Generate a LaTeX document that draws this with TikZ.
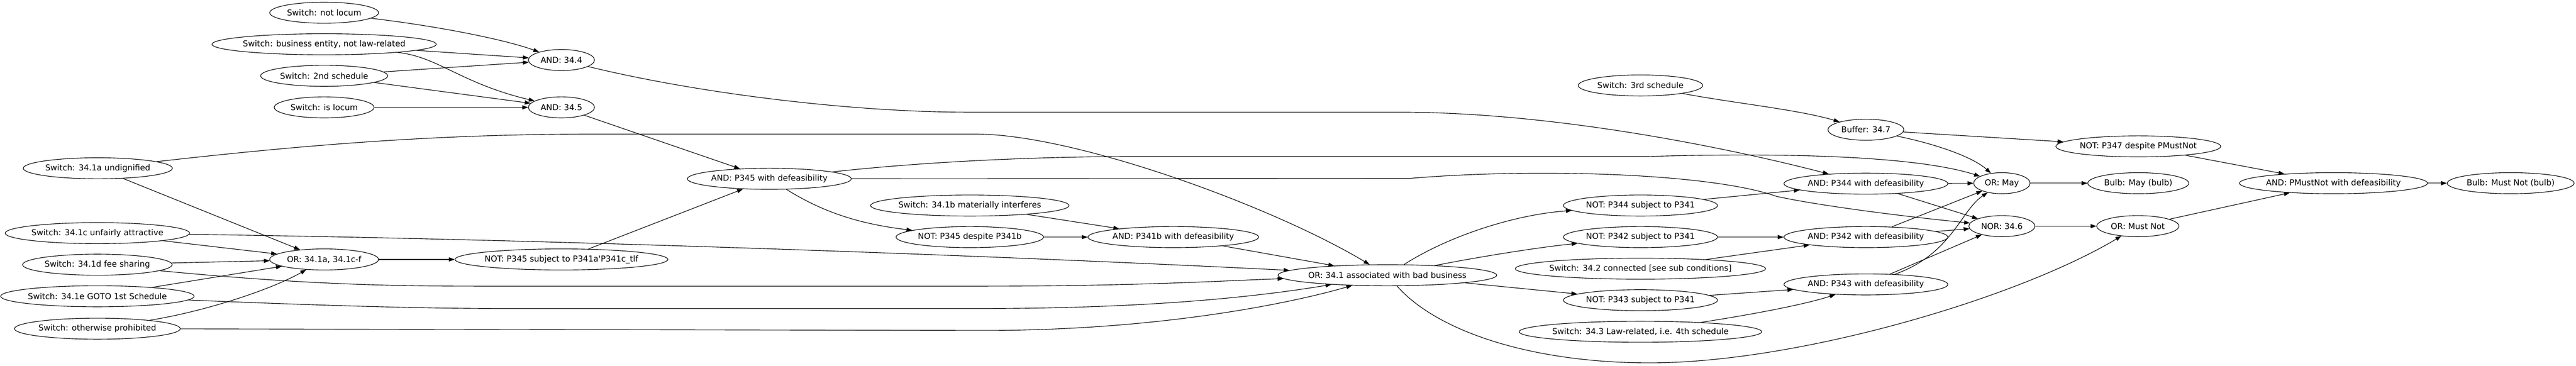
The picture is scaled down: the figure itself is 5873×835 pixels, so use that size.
\documentclass[tikz,border=0pt]{standalone}
\usepackage{fontspec}
\newfontfamily\gvfont{DejaVu Sans}
\usetikzlibrary{arrows.meta,shapes.geometric}
\newcommand{\gvlabel}[1]{\makebox[0.926\width]{#1}}
\tikzset{
	gate/.style={draw, ellipse, line width=1pt, inner xsep=7pt, inner ysep=1pt,
		minimum height=36pt, font=\gvfont\fontsize{14pt}{17pt}\selectfont},
	wire/.style={-{Triangle[length=10pt,width=7pt]}, line width=1pt},
}
\begin{document}
\begin{tikzpicture}[x=0.75pt,y=-0.75pt] % one unit = one pixel of the graph
		\useasboundingbox (0,0) rectangle (5873,835);
		
		% switches, left
		\node[gate] (swNotLocum) at (739,29) {\gvlabel{Switch: not locum}};
		\node[gate] (swBusiness) at (739,101) {\gvlabel{Switch: business entity, not law-related}};
		\node[gate] (swSecond) at (739,173) {\gvlabel{Switch: 2nd schedule}};
		\node[gate] (swIsLocum) at (739,245) {\gvlabel{Switch: is locum}};
		\node[gate] (swUndignified) at (223,384) {\gvlabel{Switch: 34.1a undignified}};
		\node[gate] (swUnfair) at (222,532) {\gvlabel{Switch: 34.1c unfairly attractive}};
		\node[gate] (swFee) at (222,604) {\gvlabel{Switch: 34.1d fee sharing}};
		\node[gate] (swGoto) at (222,676) {\gvlabel{Switch: 34.1e GOTO 1st Schedule}};
		\node[gate] (swOther) at (222,750) {\gvlabel{Switch: otherwise prohibited}};
		\node[gate] (orFirst) at (739,592) {\gvlabel{OR: 34.1a, 34.1c-f}};
		
		% second and third columns
		\node[gate] (andFour) at (1280,137) {\gvlabel{AND: 34.4}};
		\node[gate] (andFive) at (1280,245) {\gvlabel{AND: 34.5}};
		\node[gate] (notFiveSubj) at (1280,592) {\gvlabel{NOT: P345 subject to P341a'P341c\_tlf}};
		\node[gate] (andFiveDef) at (1754,408) {\gvlabel{AND: P345 with defeasibility}};
		\node[gate] (swMaterial) at (2211,469) {\gvlabel{Switch: 34.1b materially interferes}};
		\node[gate] (notFiveDesp) at (2211,541) {\gvlabel{NOT: P345 despite P341b}};
		\node[gate] (andOneBDef) at (2675,541) {\gvlabel{AND: P341b with defeasibility}};
		\node[gate] (orBad) at (3163,628) {\gvlabel{OR: 34.1 associated with bad business}};
		
		% 34.2 -- 34.4 and 34.7
		\node[gate] (swThird) at (3740,195) {\gvlabel{Switch: 3rd schedule}};
		\node[gate] (notFourSubj) at (3740,469) {\gvlabel{NOT: P344 subject to P341}};
		\node[gate] (notTwoSubj) at (3740,541) {\gvlabel{NOT: P342 subject to P341}};
		\node[gate] (swConnected) at (3740,613) {\gvlabel{Switch: 34.2 connected [see sub conditions]}};
		\node[gate] (notThreeSubj) at (3740,685) {\gvlabel{NOT: P343 subject to P341}};
		\node[gate] (swLawRel) at (3740,757) {\gvlabel{Switch: 34.3 Law-related, i.e. 4th schedule}};
		\node[gate] (bufSeven) at (4254,296) {\gvlabel{Buffer: 34.7}};
		\node[gate] (andFourDef) at (4254,419) {\gvlabel{AND: P344 with defeasibility}};
		\node[gate] (andTwoDef) at (4254,541) {\gvlabel{AND: P342 with defeasibility}};
		\node[gate] (andThreeDef) at (4254,649) {\gvlabel{AND: P343 with defeasibility}};
		
		% outputs, right
		\node[gate] (orMay) at (4564,418) {\gvlabel{OR: May}};
		\node[gate] (norSix) at (4564,516) {\gvlabel{NOR: 34.6}};
		\node[gate] (notSeven) at (4875,334) {\gvlabel{NOT: P347 despite PMustNot}};
		\node[gate] (bulbMay) at (4875,418) {\gvlabel{Bulb: May (bulb)}};
		\node[gate] (orMustNot) at (4874,516) {\gvlabel{OR: Must Not}};
		\node[gate] (andMustNot) at (5320,418) {\gvlabel{AND: PMustNot with defeasibility}};
		\node[gate] (bulbMustNot) at (5724,418) {\gvlabel{Bulb: Must Not (bulb)}};
		
		% 34.4 and 34.5
		\draw[wire] (swNotLocum) .. controls (1000,60) and (1150,90) .. (andFour);
		\draw[wire] (swBusiness) -- (andFour);
		\draw[wire] (swBusiness) .. controls (1000,130) and (1050,190) .. (andFive);
		\draw[wire] (swSecond) -- (andFour);
		\draw[wire] (swSecond) -- (andFive);
		\draw[wire] (swIsLocum) -- (andFive);
		\draw[wire] (andFour) .. controls (1600,215) and (1950,256) .. (2206,256) -- (3190,256)
			.. controls (3550,256) and (3950,340) .. (andFourDef);
		\draw[wire] (andFive) -- (andFiveDef);
		
		% 34.1 switches
		\draw[wire] (swUndignified) -- (orFirst);
		\draw[wire] (swUndignified) .. controls (700,330) and (1000,306) .. (1350,306) -- (2225,306)
			.. controls (2450,306) and (2900,470) .. (orBad);
		\draw[wire] (swUnfair) -- (orFirst);
		\draw[wire] (swUnfair) .. controls (1200,545) and (2200,580) .. (orBad);
		\draw[wire] (swFee) -- (orFirst);
		\draw[wire] (swFee) .. controls (700,650) and (900,653) .. (1100,653) -- (2235,653)
			.. controls (2600,653) and (2800,640) .. (orBad);
		\draw[wire] (swGoto) -- (orFirst);
		\draw[wire] (swGoto) .. controls (800,700) and (1000,704) .. (1150,704) -- (2235,704)
			.. controls (2600,704) and (2850,680) .. (orBad);
		\draw[wire] (swOther) .. controls (470,710) and (620,660) .. (orFirst);
		\draw[wire] (swOther) -- (2245,754) .. controls (2650,754) and (2950,690) .. (orBad);
		
		% 34.5 with defeasibility
		\draw[wire] (orFirst) -- (notFiveSubj);
		\draw[wire] (notFiveSubj) -- (andFiveDef);
		\draw[wire] (andFiveDef) .. controls (1870,480) and (1950,510) .. (notFiveDesp);
		\draw[wire] (andFiveDef) .. controls (2100,370) and (2350,357) .. (2600,357) -- (3760,357)
			.. controls (4000,350) and (4350,350) .. (orMay);
		\draw[wire] (andFiveDef) -- (3215,407) .. controls (3500,383) and (3900,395) .. (4050,448)
			.. controls (4150,470) and (4350,495) .. (norSix);
		\draw[wire] (swMaterial) -- (andOneBDef);
		\draw[wire] (notFiveDesp) -- (andOneBDef);
		\draw[wire] (andOneBDef) -- (orBad);
		
		% 34.2, 34.3, 34.4 with defeasibility
		\draw[wire] (orBad) .. controls (3300,540) and (3450,490) .. (notFourSubj);
		\draw[wire] (orBad) .. controls (3350,590) and (3500,565) .. (notTwoSubj);
		\draw[wire] (orBad) -- (notThreeSubj);
		\draw[wire] (orBad) .. controls (3280,760) and (3500,828) .. (3761,828)
			.. controls (4100,828) and (4600,680) .. (orMustNot);
		\draw[wire] (notFourSubj) -- (andFourDef);
		\draw[wire] (notTwoSubj) -- (andTwoDef);
		\draw[wire] (swConnected) -- (andTwoDef);
		\draw[wire] (notThreeSubj) -- (andThreeDef);
		\draw[wire] (swLawRel) .. controls (4030,712) and (4130,690) .. (andThreeDef);
		
		% 34.7 buffer
		\draw[wire] (swThird) .. controls (3950,235) and (4100,250) .. (bufSeven);
		\draw[wire] (bufSeven) -- (notSeven);
		\draw[wire] (bufSeven) .. controls (4420,330) and (4500,360) .. (orMay);
		
		% may / must not
		\draw[wire] (andFourDef) -- (orMay);
		\draw[wire] (andFourDef) -- (norSix);
		\draw[wire] (andTwoDef) -- (orMay);
		\draw[wire] (andTwoDef) -- (norSix);
		\draw[wire] (andThreeDef) .. controls (4450,580) and (4470,480) .. (orMay);
		\draw[wire] (andThreeDef) -- (norSix);
		\draw[wire] (orMay) -- (bulbMay);
		\draw[wire] (norSix) -- (orMustNot);
		\draw[wire] (notSeven) -- (andMustNot);
		\draw[wire] (orMustNot) -- (andMustNot);
		\draw[wire] (andMustNot) -- (bulbMustNot);
\end{tikzpicture}
\end{document}
